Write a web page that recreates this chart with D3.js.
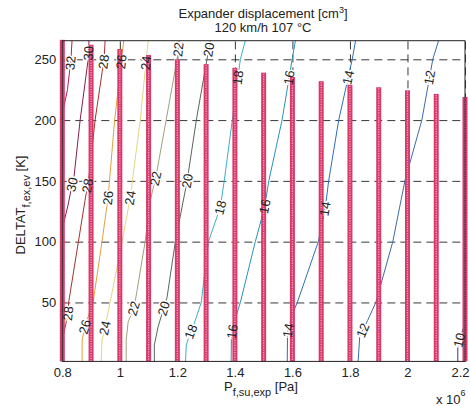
<!DOCTYPE html>
<html>
<head>
<meta charset="utf-8">
<script src="https://cdn.jsdelivr.net/npm/d3@7"></script>
<style>
  body { margin: 0; background: #fff; }
  text { font-family: "Liberation Sans", Arial, sans-serif; fill: #222; }
</style>
</head>
<body>
<svg id="chart" width="470" height="406"></svg>
<script>
// contour levels (expander displacement, cm3)
var levels = [10, 12, 14, 16, 18, 20, 22, 24, 26, 28, 30, 32];

// contour lines, points are [P (x10^6 Pa), DELTAT (K)]
var iso10 = [[2.175, 0], [2.175, 15], [2.186, 23], [2.203, 35], [2.225, 52]];
var iso12 = [[1.828, 0], [1.834, 22], [1.861, 35], [1.890, 50], [1.949, 100], [1.991, 150], [2.050, 200], [2.088, 250], [2.109, 266]];
var iso14 = [[1.582, 0], [1.583, 25], [1.599, 40], [1.617, 50], [1.690, 100], [1.715, 129], [1.726, 150], [1.761, 200], [1.808, 250], [1.820, 266]];
var iso16 = [[1.387, 0], [1.388, 23], [1.402, 37], [1.419, 50], [1.471, 100], [1.503, 128], [1.518, 150], [1.564, 200], [1.599, 250], [1.611, 266]];
var iso18 = [[1.228, 0], [1.231, 15], [1.245, 25], [1.255, 30], [1.283, 50], [1.308, 100], [1.349, 128], [1.363, 150], [1.391, 200], [1.419, 250], [1.437, 266]];
var iso20 = [[1.120, 0], [1.120, 15], [1.133, 30], [1.151, 44], [1.164, 54], [1.193, 100], [1.234, 150], [1.266, 200], [1.303, 250], [1.315, 266]];
var iso22 = [[1.022, 0], [1.022, 19], [1.029, 34], [1.050, 46], [1.060, 60], [1.088, 100], [1.106, 134], [1.126, 154], [1.161, 200], [1.199, 250], [1.207, 266]];
var iso24 = [[0.935, 0], [0.938, 19], [0.949, 30], [0.966, 50], [1.008, 100], [1.036, 136], [1.071, 200], [1.092, 250], [1.099, 266]];
var iso26 = [[0.869, 0], [0.869, 19], [0.879, 31], [0.907, 50], [0.938, 100], [0.959, 136], [0.982, 200], [1.006, 250], [1.014, 266]];
var iso28 = [[0.797, 17], [0.8035, 23], [0.812, 32], [0.820, 41], [0.822, 50], [0.856, 100], [0.879, 134], [0.893, 154], [0.914, 200], [0.945, 250], [0.949, 266]];
var iso30 = [[0.797, 110], [0.8035, 114], [0.820, 130], [0.834, 147], [0.841, 154], [0.862, 200], [0.890, 250], [0.893, 266]];
var iso32 = [[0.797, 204], [0.803, 208], [0.818, 225], [0.830, 250], [0.834, 266]];
var isolines = [iso10, iso12, iso14, iso16, iso18, iso20, iso22, iso24, iso26, iso28, iso30, iso32];

// inline contour labels: [level, DELTAT where the label sits]
var labelSpots = [
  [32, 247],
  [30, 255], [30, 147],
  [28, 248], [28, 146], [28, 41],
  [26, 248], [26, 136], [26, 30],
  [24, 247], [24, 136], [24, 29],
  [22, 258], [22, 152], [22, 45],
  [20, 258], [20, 150], [20, 45],
  [18, 235], [18, 128], [18, 26],
  [16, 235], [16, 129], [16, 26],
  [14, 235], [14, 127], [14, 27],
  [12, 235], [12, 27],
  [10, 19]
];

// measured points: columns at these pressures, up to the max DELTAT
var measP = [0.8, 0.9, 1.0, 1.1, 1.2, 1.3, 1.4, 1.5, 1.6, 1.7, 1.8, 1.9, 2.0, 2.1, 2.2];
var measTop = [266, 262, 258.5, 253.5, 250, 246, 243, 239, 235.5, 232, 229, 227, 224.5, 221.5, 219];

var xTicks = [0.8, 1.0, 1.2, 1.4, 1.6, 1.8, 2.0, 2.2];
var yTicks = [50, 100, 150, 200, 250];

var lineColors = ["#2d3f78", "#3f6aa6", "#2f6fb4", "#2a92b8", "#3bb2c3", "#56675e",
                  "#99a479", "#e4d487", "#e0a040", "#a3322f", "#86204f", "#b01e58"];
var color = d3.scaleOrdinal().domain(levels).range(lineColors);

var svg = d3.select("#chart");
var x = d3.scaleLinear().domain([0.8, 2.2]).range([62.3, 465]);
var y = d3.scaleLinear().domain([1.5, 265.3]).range([361.4, 40.7]);
var x0 = x.range()[0], x1 = x.range()[1], yb = y.range()[0], yt = y.range()[1];

svg.append("clipPath").attr("id", "plotclip")
  .append("rect").attr("x", x0).attr("y", yt).attr("width", x1 - x0).attr("height", yb - yt);

// dashed grid
var grid = svg.append("g").attr("class", "grid");
grid.append("g").attr("transform", "translate(0," + yb + ")")
  .call(d3.axisBottom(x).tickValues(xTicks).tickSize(-(yb - yt)).tickFormat(""));
grid.append("g").attr("transform", "translate(" + x0 + ",0)")
  .call(d3.axisLeft(y).tickValues(yTicks).tickSize(-(x1 - x0)).tickFormat(""));
grid.selectAll(".domain").remove();
grid.selectAll("line").attr("stroke", "#222").attr("stroke-width", 0.9).attr("stroke-dasharray", "8,5");

// contour lines
var line = d3.line().x(function(d) { return x(d[0]); }).y(function(d) { return y(d[1]); });
svg.append("g").attr("clip-path", "url(#plotclip)")
  .selectAll("path").data(isolines).enter().append("path")
  .attr("d", line)
  .attr("fill", "none")
  .attr("stroke", function(d, i) { return color(levels[i]); })
  .attr("stroke-width", 1);

// label placement along each contour
function pAt(level, dt) {
  var pts = isolines[levels.indexOf(level)];
  var s = d3.scaleLinear().domain(pts.map(function(p) { return p[1]; })).range(pts.map(function(p) { return p[0]; }));
  return s(dt);
}
var labels = labelSpots.map(function(d) {
  var lv = d[0], dt = d[1];
  var ax = x(pAt(lv, dt - 8)), ay = y(dt - 8), bx = x(pAt(lv, dt + 8)), by = y(dt + 8);
  return {
    level: lv,
    px: x(pAt(lv, dt)),
    py: y(dt),
    angle: Math.atan2(by - ay, bx - ax) * 180 / Math.PI
  };
});

function drawLabels(g, halo) {
  g.selectAll("text").data(labels).enter().append("text")
    .attr("transform", function(d) { return "translate(" + d.px + "," + d.py + ") rotate(" + d.angle + ")"; })
    .attr("text-anchor", "middle")
    .attr("dy", "0.35em")
    .style("font-size", "13px")
    .attr("stroke", halo ? "#fff" : null)
    .attr("stroke-width", halo ? 3 : null)
    .style("fill", halo ? "#fff" : "#222")
    .text(function(d) { return d.level; });
}
drawLabels(svg.append("g"), true);

// measured points columns
var meas = svg.append("g").selectAll("g").data(measP).enter().append("g");
meas.append("rect")
  .attr("x", function(d) { return x(d) - 2.5; })
  .attr("width", 5)
  .attr("y", function(d, i) { return y(measTop[i]); })
  .attr("height", function(d, i) { return yb - y(measTop[i]); })
  .attr("fill", "#d8396a");
meas.append("line")
  .attr("x1", function(d) { return x(d); }).attr("x2", function(d) { return x(d); })
  .attr("y1", function(d, i) { return y(measTop[i]) + 1; })
  .attr("y2", yb)
  .attr("stroke", "#f3a9c0").attr("stroke-width", 1.3).attr("stroke-dasharray", "1.2,1.2");

drawLabels(svg.append("g"), false);

// axes box
svg.append("rect").attr("x", x0).attr("y", yt).attr("width", x1 - x0).attr("height", yb - yt)
  .attr("fill", "none").attr("stroke", "#222").attr("stroke-width", 1);

// tick labels
var xa = svg.append("g").attr("transform", "translate(0," + yb + ")")
  .call(d3.axisBottom(x).tickValues(xTicks).tickSize(0).tickPadding(6).tickFormat(d3.format("~g")));
var ya = svg.append("g").attr("transform", "translate(" + x0 + ",0)")
  .call(d3.axisLeft(y).tickValues(yTicks).tickSize(0).tickPadding(6));
[xa, ya].forEach(function(a) {
  a.select(".domain").remove();
  a.selectAll("text").style("font-size", "13px").style("font-family", "'Liberation Sans', Arial, sans-serif").attr("fill", "#222");
});
// last x label sits on the window edge: keep it inside
xa.selectAll(".tick text").filter(function(d) { return d === 2.2; })
  .attr("text-anchor", "end").attr("x", 4);

// titles
var t1 = svg.append("text").attr("x", 263).attr("y", 18).attr("text-anchor", "middle").style("font-size", "13px");
t1.append("tspan").text("Expander displacement [cm");
t1.append("tspan").attr("dy", -5).style("font-size", "9px").text("3");
t1.append("tspan").attr("dy", 5).text("]");
svg.append("text").attr("x", 263).attr("y", 32).attr("text-anchor", "middle").style("font-size", "13px")
  .text("120 km/h 107 \u00B0C");

var xl = svg.append("text").attr("x", 261).attr("y", 391).attr("text-anchor", "middle").style("font-size", "13px");
xl.append("tspan").text("P");
xl.append("tspan").attr("dy", 5).style("font-size", "11px").text("f,su,exp");
xl.append("tspan").attr("dy", -5).text(" [Pa]");

var yl = svg.append("text").attr("transform", "translate(25,205) rotate(-90)").attr("text-anchor", "middle").style("font-size", "13px");
yl.append("tspan").text("DELTAT");
yl.append("tspan").attr("dy", 5).style("font-size", "11px").text("f,ex,ev");
yl.append("tspan").attr("dy", -5).text(" [K]");

var ex = svg.append("text").attr("x", 436).attr("y", 404).style("font-size", "13px");
ex.append("tspan").text("x 10");
ex.append("tspan").attr("dy", -8).style("font-size", "9px").text("6");
</script>
</body>
</html>
